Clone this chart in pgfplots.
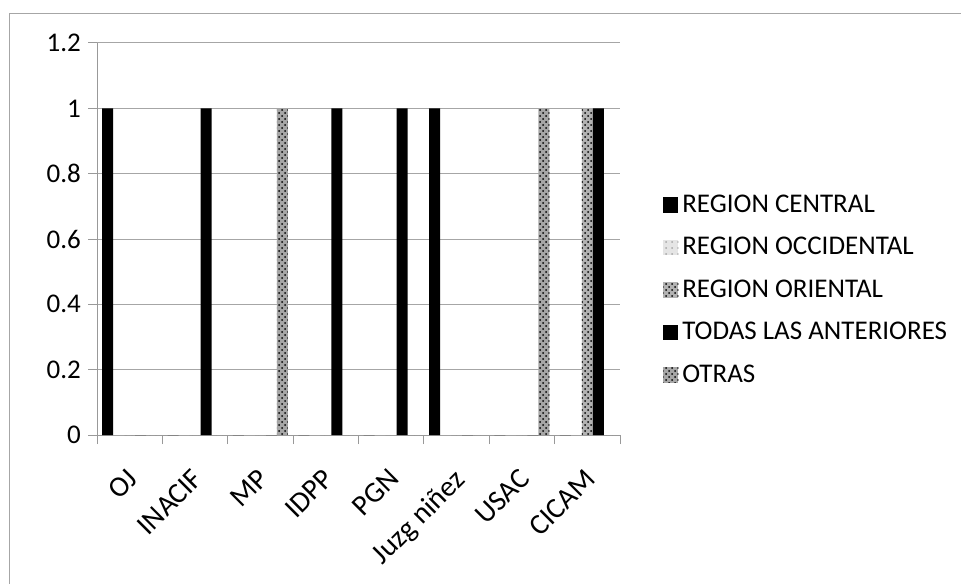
\documentclass[border=0pt]{standalone}
\usepackage{fontspec}
\setmainfont{Carlito}
\usepackage{pgfplots}
\pgfplotsset{compat=1.18}
\usetikzlibrary{patterns}

% one table, one column per region
\pgfplotstableread{
x  central occidental oriental todas otras
0  1       0          0        0     0
1  0       0          0        1     0
2  0       0          0        0     1
3  0       0          0        1     0
4  0       0          0        1     0
5  1       0          0        0     0
6  0       0          0        0     1
7  0       0          1        1     0
}\datos

\newcommand{\txt}{\fontsize{13.5}{16}\selectfont}

\begin{document}
\begin{tikzpicture}
\useasboundingbox (0,0) rectangle (480.5pt,292pt);
% outer chart frame (left and top only show in the scan)
\draw[gray!70, line width=0.5pt] (4.5pt,0) -- (4.5pt,285pt) -- (480.5pt,285pt);
\begin{axis}[
    at={(48.5pt,74.5pt)}, anchor=south west,
    scale only axis, width=261.5pt, height=196pt,
    ybar=0pt, bar width=5.5pt,
    xmin=-0.5, xmax=7.5, ymin=0, ymax=1.2,
    xtick={0,...,7},
    xticklabels={OJ,INACIF,MP,IDPP,PGN,Juzg niñez,USAC,CICAM},
    major x tick style={draw=none},
    minor xtick={-0.5,0.5,...,7.5},
    minor tick length=4.5pt,
    ytick={0,0.2,...,1.2},
    major tick length=4.5pt,
    tick align=outside,
    yticklabel style={/pgf/number format/fixed, /pgf/number format/precision=1},
    /pgf/number format/assume math mode=true,
    ymajorgrids, grid style={gray!70, line width=0.5pt},
    axis x line*=bottom, axis y line*=left,
    axis line style={gray!80, line width=0.5pt},
    tick style={gray!80, line width=0.5pt},
    ticklabel style={font=\txt},
    xticklabel style={xshift=-2pt, yshift=-10pt, rotate=45, anchor=north east,
        inner sep=1pt, font=\fontsize{14.5}{17}\selectfont},
    legend style={at={(1.082,0.37)}, anchor=west, draw=none, fill=none,
        font=\txt, row sep=7pt, inner xsep=0pt,
        cells={anchor=west}},
    legend image code/.code={\fill[#1] (0pt,-3.8pt) rectangle (7.5pt,3.8pt);},
  ]
\addplot[fill=black, draw=none] table[x=x, y=central] {\datos};
\addplot[fill=gray!20, draw=none, postaction={pattern=dots, pattern color=gray!70}] table[x=x, y=occidental] {\datos};
\addplot[fill=gray!60, draw=none, postaction={pattern=crosshatch dots, pattern color=black}] table[x=x, y=oriental] {\datos};
\addplot[fill=black, draw=none] table[x=x, y=todas] {\datos};
\addplot[fill=gray!70, draw=none, postaction={pattern=crosshatch dots, pattern color=black}] table[x=x, y=otras] {\datos};
\legend{REGION CENTRAL, REGION OCCIDENTAL, REGION ORIENTAL, TODAS LAS ANTERIORES, OTRAS}
\end{axis}
\end{tikzpicture}
\end{document}
